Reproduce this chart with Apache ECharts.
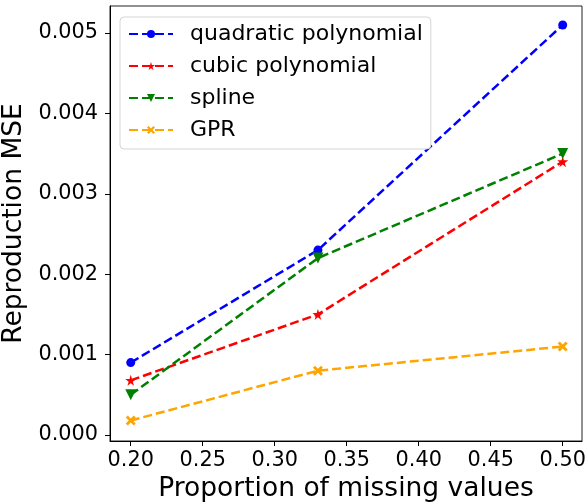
<!DOCTYPE html>
<html>
<head>
<meta charset="utf-8">
<script src="https://cdn.jsdelivr.net/npm/echarts@6/dist/echarts.min.js"></script>
<style>
  html, body { margin: 0; padding: 0; background: #fff; }
  #chart { width: 588px; height: 502px; }
</style>
</head>
<body>
<div id="chart"></div>
<script>
const proportions = [0.2, 0.33, 0.5]
const quadratic = [0.0009, 0.0023, 0.0051]
const cubic = [0.00068, 0.0015, 0.0034]
const spline = [0.0005, 0.0022, 0.0035]
const gpr = [0.00018, 0.0008, 0.0011]
const xTicks = [0.2, 0.25, 0.3, 0.35, 0.4, 0.45, 0.5]
const yTicks = [0, 0.001, 0.002, 0.003, 0.004, 0.005]

const starPath = 'path://M50,0 L61,35 L98,35 L68,57 L79,91 L50,70 L21,91 L32,57 L2,35 L39,35 Z'
const xPath = 'path://M20,0 L50,30 L80,0 L100,20 L70,50 L100,80 L80,100 L50,70 L20,100 L0,80 L30,50 L0,20 Z'

const font = 'DejaVu Sans'

const makeSeries = (name, values, color, symbol, size, rotate) => ({
  name,
  type: 'line',
  data: proportions.map((p, i) => [p, values[i]]),
  symbol,
  symbolSize: size,
  symbolRotate: rotate || 0,
  showAllSymbol: true,
  itemStyle: { color },
  lineStyle: { color, width: 2.5, type: [9, 4] },
  animation: false
})

const chart = echarts.init(document.getElementById('chart'), null, { renderer: 'canvas' })

chart.setOption({
  backgroundColor: '#fff',
  grid: {
    left: 110, right: 6, top: 6, bottom: 61,
    containLabel: false,
    outerBoundsMode: 'none',
    show: true, borderColor: '#222', borderWidth: 1
  },
  legend: {
    orient: 'vertical',
    left: 120, top: 17,
    padding: [6, 8, 8, 8],
    itemWidth: 44, itemHeight: 10,
    itemGap: 10,
    borderColor: '#d5d5d5', borderWidth: 1, borderRadius: 4,
    backgroundColor: '#fff',
    textStyle: { fontFamily: font, fontSize: 22, color: '#000', padding: [0, 0, 0, 12] },
    data: ['quadratic polynomial', 'cubic polynomial', 'spline', 'GPR']
  },
  xAxis: {
    type: 'value',
    min: 0.1856, max: 0.5134,
    name: 'Proportion of missing values',
    nameLocation: 'middle',
    nameGap: 33,
    nameTextStyle: { fontFamily: font, fontSize: 26.5, color: '#000' },
    axisLine: { onZero: false, lineStyle: { color: '#000', width: 1 } },
    axisTick: { show: true, length: 5, lineStyle: { color: '#000' }, customValues: xTicks },
    axisLabel: {
      fontFamily: font, fontSize: 20.8, color: '#000', margin: 9,
      customValues: xTicks,
      formatter: v => v.toFixed(2)
    },
    splitLine: { show: false }
  },
  yAxis: {
    type: 'value',
    min: -0.000075, max: 0.005336,
    name: 'Reproduction MSE',
    nameLocation: 'middle',
    nameGap: 77,
    nameTextStyle: { fontFamily: font, fontSize: 26.5, color: '#000' },
    axisLine: { show: true, onZero: false, lineStyle: { color: '#000', width: 1 } },
    axisTick: { show: true, length: 5, lineStyle: { color: '#000' }, customValues: yTicks },
    axisLabel: {
      fontFamily: font, fontSize: 20.8, color: '#000', margin: 12,
      customValues: yTicks,
      formatter: v => v.toFixed(3)
    },
    splitLine: { show: false }
  },
  series: [
    makeSeries('quadratic polynomial', quadratic, '#0000ff', 'circle', 9),
    makeSeries('cubic polynomial', cubic, '#ff0000', starPath, 11),
    makeSeries('spline', spline, '#008000', 'triangle', 11, 180),
    makeSeries('GPR', gpr, '#ffa500', xPath, 10)
  ]
})

window.addEventListener('resize', () => chart.resize())
</script>
</body>
</html>
